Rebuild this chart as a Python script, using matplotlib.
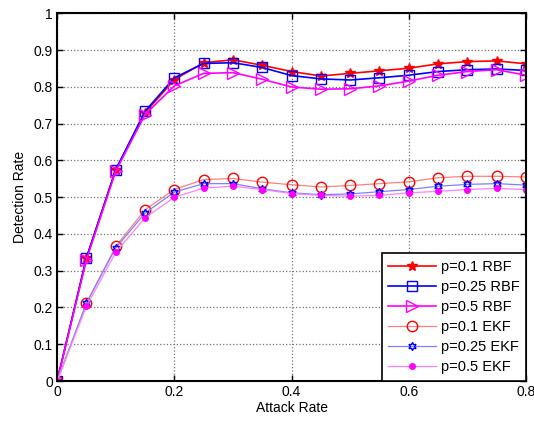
import matplotlib
matplotlib.use('Agg')
import matplotlib.pyplot as plt
from matplotlib.ticker import FuncFormatter

plt.rcParams['font.family'] = ['Liberation Sans', 'DejaVu Sans']

# attack rate
attack_rate = [0, 0.05, 0.1, 0.15, 0.2, 0.25, 0.3, 0.35, 0.4,
               0.45, 0.5, 0.55, 0.6, 0.65, 0.7, 0.75, 0.8]

# detection rates
rbf_01 = [0, 0.335, 0.575, 0.730, 0.820, 0.866, 0.874, 0.859, 0.842,
          0.830, 0.837, 0.844, 0.851, 0.863, 0.869, 0.871, 0.863]
rbf_025 = [0, 0.335, 0.575, 0.734, 0.825, 0.864, 0.866, 0.853, 0.831,
           0.822, 0.819, 0.825, 0.832, 0.842, 0.847, 0.849, 0.845]
rbf_05 = [0, 0.330, 0.571, 0.725, 0.803, 0.837, 0.839, 0.821, 0.800,
          0.794, 0.795, 0.803, 0.816, 0.832, 0.842, 0.847, 0.832]
ekf_01 = [0, 0.212, 0.366, 0.466, 0.521, 0.548, 0.551, 0.541, 0.534,
          0.528, 0.532, 0.537, 0.542, 0.553, 0.557, 0.557, 0.555]
ekf_025 = [0, 0.212, 0.362, 0.457, 0.514, 0.537, 0.537, 0.523, 0.512,
           0.507, 0.509, 0.515, 0.521, 0.530, 0.535, 0.537, 0.533]
ekf_05 = [0, 0.203, 0.350, 0.444, 0.500, 0.525, 0.530, 0.521, 0.510,
          0.505, 0.503, 0.505, 0.512, 0.516, 0.521, 0.524, 0.521]

fig = plt.figure(figsize=(5.34, 4.21), dpi=100)
ax = fig.add_axes([0.107, 0.095, 0.878, 0.873])

ax.plot(attack_rate, rbf_01, color='red', lw=1.2, marker='*', ms=7,
        label='p=0.1 RBF')
ax.plot(attack_rate, rbf_025, color='blue', lw=1.2, marker='s', ms=7.5,
        mfc='none', mew=1.0, label='p=0.25 RBF')
ax.plot(attack_rate, rbf_05, color='magenta', lw=1.2, marker='>', ms=8.5,
        mfc='none', mew=1.0, label='p=0.5 RBF')
ax.plot(attack_rate, ekf_01, color='#ff8080', lw=0.9, marker='o', ms=7.5,
        mfc='none', mec='red', mew=1.0, label='p=0.1 EKF')
ax.plot(attack_rate, ekf_025, color='#8080ff', lw=0.9, marker=(6, 1, 0), ms=6,
        mfc='none', mec='blue', mew=1.0, label='p=0.25 EKF')
ax.plot(attack_rate, ekf_05, color='#ff80ff', lw=0.9, marker='o', ms=4,
        mfc='magenta', mec='magenta', label='p=0.5 EKF')

ax.set_xlim(0, 0.8)
ax.set_ylim(0, 1)
ax.set_xticks([0, 0.2, 0.4, 0.6, 0.8])
ax.set_yticks([i / 10 for i in range(11)])
ax.xaxis.set_major_formatter(FuncFormatter(lambda v, p: f'{v:g}'))
ax.yaxis.set_major_formatter(FuncFormatter(lambda v, p: f'{v:g}'))
ax.tick_params(direction='in', top=True, right=True, length=4, width=1,
               labelsize=10, pad=3)
for s in ax.spines.values():
    s.set_linewidth(1.5)
ax.grid(True, linestyle=':', color='0.45', linewidth=0.9)

ax.set_xlabel('Attack Rate', fontsize=10, labelpad=1)
ax.set_ylabel('Detection Rate', fontsize=10, labelpad=5)

leg = ax.legend(loc='lower right', borderaxespad=0, fontsize=10.5,
                fancybox=False, framealpha=1, edgecolor='black',
                handlelength=3.3, labelspacing=0.42, borderpad=0.45,
                handletextpad=0.3)
leg.get_frame().set_linewidth(1.2)

fig.savefig('out.png', dpi=100)
plt.close(fig)
